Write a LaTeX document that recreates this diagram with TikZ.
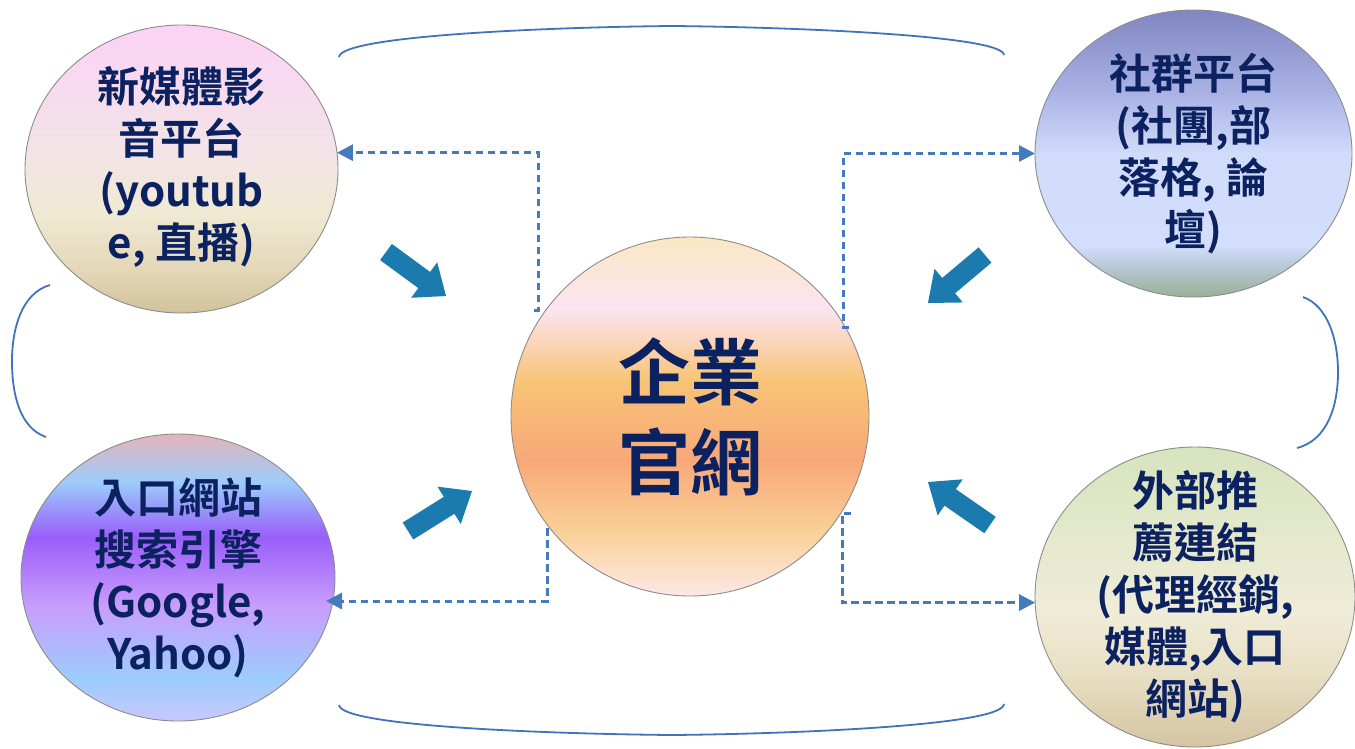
\documentclass[tikz,border=0pt]{standalone}
\usepackage{fontspec}
\setmainfont{Noto Sans CJK TC}[BoldFont={Noto Sans CJK TC Bold}]
\usetikzlibrary{calc,shapes.geometric,arrows.meta}

\definecolor{navy}{RGB}{12,34,96}
\definecolor{fatblue}{RGB}{27,123,175}
\definecolor{dashblue}{RGB}{70,122,190}
\definecolor{brblue}{RGB}{66,114,186}
\definecolor{rimgray}{RGB}{140,140,140}

% top-left
\definecolor{tlA}{HTML}{FCD2F6}\definecolor{tlB}{HTML}{F2E4E6}
\definecolor{tlC}{HTML}{F0EAD4}\definecolor{tlD}{HTML}{E2D6B6}\definecolor{tlE}{HTML}{D2C29C}
\pgfdeclareverticalshading{tlshade}{100bp}{color(0bp)=(tlE); color(25bp)=(tlE); color(32bp)=(tlD);
 color(42.5bp)=(tlC); color(52.5bp)=(tlB); color(75bp)=(tlA); color(100bp)=(tlA)}
% top-right
\definecolor{trA}{HTML}{8086C2}\definecolor{trB}{HTML}{ACB4E6}\definecolor{trC}{HTML}{D0DCFA}
\definecolor{trD}{HTML}{D2DEFC}\definecolor{trE}{HTML}{B6C6D2}\definecolor{trF}{HTML}{98B098}
\pgfdeclareverticalshading{trshade}{100bp}{color(0bp)=(trF); color(25bp)=(trF); color(30bp)=(trE);
 color(34bp)=(trD); color(50bp)=(trC); color(60bp)=(trB); color(75bp)=(trA); color(100bp)=(trA)}
% bottom-left
\definecolor{blA}{HTML}{E4B4BA}\definecolor{blB}{HTML}{9CCCFC}\definecolor{blC}{HTML}{9A9CFA}
\definecolor{blD}{HTML}{9A5EFA}\definecolor{blE}{HTML}{C89EFC}\definecolor{blF}{HTML}{9CCCFC}
\definecolor{blG}{HTML}{C8C8FC}
\pgfdeclareverticalshading{blshade}{100bp}{color(0bp)=(blG); color(25bp)=(blG); color(32.5bp)=(blF);
 color(45bp)=(blE); color(57bp)=(blD); color(62.5bp)=(blC); color(66.5bp)=(blB); color(75bp)=(blA); color(100bp)=(blA)}
% bottom-right
\definecolor{brA}{HTML}{D6E4BE}\definecolor{brB}{HTML}{F0ECD8}\definecolor{brC}{HTML}{E8E0C4}
\definecolor{brD}{HTML}{D4C4A2}
\pgfdeclareverticalshading{brshade}{100bp}{color(0bp)=(brD); color(25bp)=(brD); color(37.5bp)=(brC);
 color(47.5bp)=(brB); color(75bp)=(brA); color(100bp)=(brA)}
% centre
\definecolor{ceA}{HTML}{FAE8C4}\definecolor{ceB}{HTML}{FCE4F2}\definecolor{ceC}{HTML}{F8C476}
\definecolor{ceD}{HTML}{F8A878}\definecolor{ceE}{HTML}{FAD29A}\definecolor{ceF}{HTML}{FCE8E8}
\pgfdeclareverticalshading{ceshade}{100bp}{color(0bp)=(ceF); color(25bp)=(ceF); color(33.5bp)=(ceE);
 color(44bp)=(ceD); color(55bp)=(ceC); color(65bp)=(ceB); color(75bp)=(ceA); color(100bp)=(ceA)}

\newcommand{\fatarrow}[2]{%
  \coordinate (fatH) at ($(#2)!27pt!(#1)$);
  \fill[fatblue] ($(#1)!10pt!90:(#2)$) -- ($(fatH)!10pt!-90:(#1)$) -- ($(fatH)!22pt!-90:(#1)$)
    -- (#2) -- ($(fatH)!22pt!90:(#1)$) -- ($(fatH)!10pt!90:(#1)$) -- ($(#1)!10pt!-90:(#2)$) -- cycle;}

\begin{document}
\begin{tikzpicture}[x=1pt,y=-1pt,
  bubble/.style={ellipse, draw=rimgray, line width=0.9pt, inner sep=0pt, outer sep=0pt},
  txt/.style={align=center, text=navy, inner sep=0pt, font=\bfseries\fontsize{42}{52}\selectfont},
  bigtxt/.style={align=center, text=navy, inner sep=0pt, font=\bfseries\fontsize{72}{90}\selectfont},
  dashcon/.style={draw=dashblue, line width=3pt, dash pattern=on 7.5pt off 4.5pt,
     -{Triangle[length=16pt,width=16pt]}},
  bracket/.style={draw=brblue, line width=1.8pt}]
\useasboundingbox (0,0) rectangle (1355,748);
\fill[white] (0,0) rectangle (1355,748);

% brackets
\draw[bracket] (339,57) .. controls (341,35) and (560,27) .. (672,26) .. controls (785,27) and (1003,35) .. (1004,55);
\draw[bracket] (339,705) .. controls (341,727) and (560,734) .. (672,735) .. controls (785,734) and (1003,726) .. (1004,704);
\draw[bracket] (50,285) .. controls (22,293) and (12,328) .. (12,361) .. controls (12,395) and (20,428) .. (46,437);
\draw[bracket] (1303,297) .. controls (1328,306) and (1338,340) .. (1338,372) .. controls (1338,405) and (1328,440) .. (1297,448);

% bubbles
\node[bubble, shade, shading=tlshade, minimum width=313pt, minimum height=288pt] (tl) at (181.5,169) {};
\node[bubble, shade, shading=trshade, minimum width=317pt, minimum height=287pt] (tr) at (1193.5,153.5) {};
\node[bubble, shade, shading=blshade, minimum width=314pt, minimum height=287pt] (bl) at (178,577.5) {};
\node[bubble, shade, shading=brshade, minimum width=320pt, minimum height=300pt] (br) at (1195,597) {};
\node[bubble, shade, shading=ceshade, minimum width=358pt, minimum height=359pt] (ce) at (690,416.5) {};

% texts
\node[txt] (tlt) at ([yshift=2pt]tl) {新媒體影\\音平台\\(youtub\\e, 直播)};
\node[txt] (trt) at (tr) {社群平台\\(社團,部\\落格, 論\\壇)};
\node[txt] (blt) at (bl) {入口網站\\搜索引擎\\(Google,\\Yahoo)};
\node[txt] (brt) at (br) {外部推\\薦連結\\(代理經銷,\\媒體,入口\\網站)};
\node[bigtxt] (cet) at (ce) {企業\\官網};

% dashed connectors
\coordinate (d1) at (534,310);
\coordinate (d2) at (849,327);
\coordinate (d3) at (547,528);
\coordinate (d4) at (851,513);
\coordinate (t3) at (326,601);
\draw[dashcon] (d1) -- ++(4,0) |- (tl.6.6);
\draw[dashcon] (d2) -- ++(-6,0) |- (tr.west);
\draw[dashcon] (d3) |- (t3);
\draw[dashcon] (d4) -- ++(-9,0) |- (br.182);

% fat arrows
\coordinate (a1s) at (386,252); \coordinate (a1e) at (446,296);
\coordinate (a2s) at (985,255); \coordinate (a2e) at (928,303);
\coordinate (a3s) at (408,531); \coordinate (a3e) at (472,491);
\coordinate (a4s) at (990,525); \coordinate (a4e) at (928,482);
\fatarrow{a1s}{a1e}
\fatarrow{a2s}{a2e}
\fatarrow{a3s}{a3e}
\fatarrow{a4s}{a4e}
\end{tikzpicture}
\end{document}
